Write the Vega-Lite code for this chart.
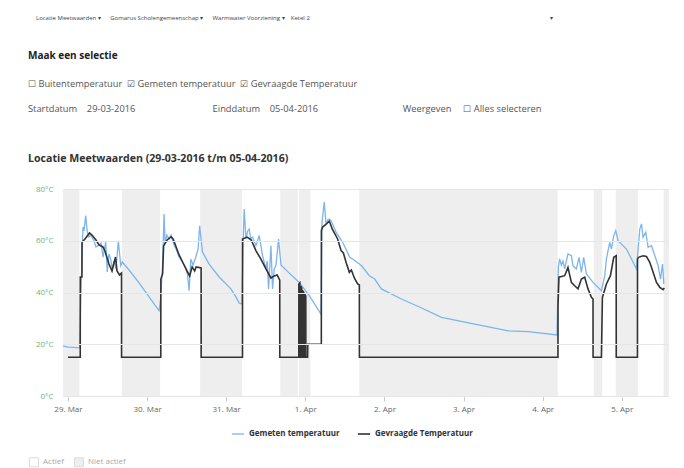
{
  "$schema": "https://vega.github.io/schema/vega-lite/v6.json",
  "autosize": {"type": "pad"},
  "padding": {"left": 28, "top": 15, "right": 0, "bottom": 0},
  "background": "#ffffff",
  "config": {
    "font": "Open Sans",
    "view": {"stroke": null},
    "concat": {"spacing": 0}
  },
  "title": {
    "text": "\u00a0\u00a0Locatie Meetwaarden ▾\u00a0\u00a0\u00a0\u00a0\u00a0\u00a0Gomarus Scholengemeenschap ▾\u00a0\u00a0\u00a0\u00a0\u00a0\u00a0Warmwater Voorziening ▾\u00a0\u00a0\u00a0\u00a0Ketel 2\u2003\u2003\u2003\u2003\u2003\u2003\u2003\u2003\u2003\u2003\u2003\u2003\u2003\u2003\u2003\u2003\u2003\u2003\u2003\u2003\u2003\u2003\u2003\u2003\u2003\u2003\u2003\u2003\u2003\u2003\u2003\u2003\u2003\u2003\u2003\u2003\u2003\u2003\u2003\u2003▾",
    "anchor": "start",
    "frame": "group",
    "dx": -27,
    "offset": 30,
    "fontSize": 6,
    "fontWeight": "normal",
    "color": "#444444"
  },
  "datasets": {
    "bands": [
      {"s": "2016-03-28T22:30", "e": "2016-03-29T03:30", "st": "Niet actief"},
      {"s": "2016-03-29T16:25", "e": "2016-03-30T03:57", "st": "Niet actief"},
      {"s": "2016-03-30T16:06", "e": "2016-03-31T04:52", "st": "Niet actief"},
      {"s": "2016-03-31T16:24", "e": "2016-03-31T21:45", "st": "Niet actief"},
      {"s": "2016-03-31T22:05", "e": "2016-04-01T01:31", "st": "Niet actief"},
      {"s": "2016-04-01T16:24", "e": "2016-04-04T04:34", "st": "Niet actief"},
      {"s": "2016-04-04T15:30", "e": "2016-04-04T18:05", "st": "Niet actief"},
      {"s": "2016-04-04T22:11", "e": "2016-04-05T04:52", "st": "Niet actief"},
      {"s": "2016-04-05T12:42", "e": "2016-04-05T14:20", "st": "Niet actief"}
    ],
    "temps": [
      {"t": "2016-03-28T22:29", "s": "Gemeten temperatuur", "v": 19.3},
      {"t": "2016-03-29T00:18", "s": "Gemeten temperatuur", "v": 18.9},
      {"t": "2016-03-29T03:33", "s": "Gemeten temperatuur", "v": 18.6},
      {"t": "2016-03-29T03:52", "s": "Gemeten temperatuur", "v": 37.5},
      {"t": "2016-03-29T04:15", "s": "Gemeten temperatuur", "v": 52.2},
      {"t": "2016-03-29T04:33", "s": "Gemeten temperatuur", "v": 65.3},
      {"t": "2016-03-29T04:52", "s": "Gemeten temperatuur", "v": 63.8},
      {"t": "2016-03-29T05:23", "s": "Gemeten temperatuur", "v": 69.7},
      {"t": "2016-03-29T05:52", "s": "Gemeten temperatuur", "v": 63.4},
      {"t": "2016-03-29T06:23", "s": "Gemeten temperatuur", "v": 61.4},
      {"t": "2016-03-29T06:59", "s": "Gemeten temperatuur", "v": 62.2},
      {"t": "2016-03-29T07:54", "s": "Gemeten temperatuur", "v": 59.9},
      {"t": "2016-03-29T08:30", "s": "Gemeten temperatuur", "v": 57.6},
      {"t": "2016-03-29T09:25", "s": "Gemeten temperatuur", "v": 58.4},
      {"t": "2016-03-29T10:02", "s": "Gemeten temperatuur", "v": 59.1},
      {"t": "2016-03-29T10:38", "s": "Gemeten temperatuur", "v": 53.7},
      {"t": "2016-03-29T11:27", "s": "Gemeten temperatuur", "v": 59.5},
      {"t": "2016-03-29T11:56", "s": "Gemeten temperatuur", "v": 47.9},
      {"t": "2016-03-29T12:27", "s": "Gemeten temperatuur", "v": 54.9},
      {"t": "2016-03-29T12:58", "s": "Gemeten temperatuur", "v": 52.9},
      {"t": "2016-03-29T13:27", "s": "Gemeten temperatuur", "v": 49.1},
      {"t": "2016-03-29T13:58", "s": "Gemeten temperatuur", "v": 52.2},
      {"t": "2016-03-29T14:35", "s": "Gemeten temperatuur", "v": 49.1},
      {"t": "2016-03-29T15:17", "s": "Gemeten temperatuur", "v": 60.0},
      {"t": "2016-03-29T16:01", "s": "Gemeten temperatuur", "v": 50.4},
      {"t": "2016-03-29T16:30", "s": "Gemeten temperatuur", "v": 51.8},
      {"t": "2016-03-29T18:32", "s": "Gemeten temperatuur", "v": 48.7},
      {"t": "2016-03-29T21:34", "s": "Gemeten temperatuur", "v": 43.7},
      {"t": "2016-03-30T00:37", "s": "Gemeten temperatuur", "v": 38.3},
      {"t": "2016-03-30T03:39", "s": "Gemeten temperatuur", "v": 32.9},
      {"t": "2016-03-30T04:06", "s": "Gemeten temperatuur", "v": 37.5},
      {"t": "2016-03-30T04:39", "s": "Gemeten temperatuur", "v": 49.1},
      {"t": "2016-03-30T05:10", "s": "Gemeten temperatuur", "v": 70.3},
      {"t": "2016-03-30T05:28", "s": "Gemeten temperatuur", "v": 58.8},
      {"t": "2016-03-30T05:59", "s": "Gemeten temperatuur", "v": 62.2},
      {"t": "2016-03-30T06:41", "s": "Gemeten temperatuur", "v": 60.7},
      {"t": "2016-03-30T07:17", "s": "Gemeten temperatuur", "v": 62.2},
      {"t": "2016-03-30T08:12", "s": "Gemeten temperatuur", "v": 58.4},
      {"t": "2016-03-30T08:49", "s": "Gemeten temperatuur", "v": 56.8},
      {"t": "2016-03-30T09:43", "s": "Gemeten temperatuur", "v": 53.7},
      {"t": "2016-03-30T10:43", "s": "Gemeten temperatuur", "v": 51.8},
      {"t": "2016-03-30T11:33", "s": "Gemeten temperatuur", "v": 49.9},
      {"t": "2016-03-30T12:14", "s": "Gemeten temperatuur", "v": 47.2},
      {"t": "2016-03-30T12:45", "s": "Gemeten temperatuur", "v": 40.7},
      {"t": "2016-03-30T13:16", "s": "Gemeten temperatuur", "v": 52.9},
      {"t": "2016-03-30T13:58", "s": "Gemeten temperatuur", "v": 50.6},
      {"t": "2016-03-30T14:47", "s": "Gemeten temperatuur", "v": 53.7},
      {"t": "2016-03-30T15:29", "s": "Gemeten temperatuur", "v": 56.8},
      {"t": "2016-03-30T15:57", "s": "Gemeten temperatuur", "v": 65.8},
      {"t": "2016-03-30T16:48", "s": "Gemeten temperatuur", "v": 55.7},
      {"t": "2016-03-30T18:50", "s": "Gemeten temperatuur", "v": 51.0},
      {"t": "2016-03-30T21:52", "s": "Gemeten temperatuur", "v": 46.0},
      {"t": "2016-03-31T01:26", "s": "Gemeten temperatuur", "v": 41.4},
      {"t": "2016-03-31T02:57", "s": "Gemeten temperatuur", "v": 38.3},
      {"t": "2016-03-31T03:57", "s": "Gemeten temperatuur", "v": 35.9},
      {"t": "2016-03-31T04:46", "s": "Gemeten temperatuur", "v": 35.6},
      {"t": "2016-03-31T05:10", "s": "Gemeten temperatuur", "v": 60.7},
      {"t": "2016-03-31T05:28", "s": "Gemeten temperatuur", "v": 72.3},
      {"t": "2016-03-31T05:59", "s": "Gemeten temperatuur", "v": 60.7},
      {"t": "2016-03-31T06:32", "s": "Gemeten temperatuur", "v": 63.8},
      {"t": "2016-03-31T06:59", "s": "Gemeten temperatuur", "v": 64.5},
      {"t": "2016-03-31T07:26", "s": "Gemeten temperatuur", "v": 60.7},
      {"t": "2016-03-31T07:59", "s": "Gemeten temperatuur", "v": 61.4},
      {"t": "2016-03-31T09:01", "s": "Gemeten temperatuur", "v": 58.1},
      {"t": "2016-03-31T10:02", "s": "Gemeten temperatuur", "v": 62.0},
      {"t": "2016-03-31T11:02", "s": "Gemeten temperatuur", "v": 54.2},
      {"t": "2016-03-31T12:04", "s": "Gemeten temperatuur", "v": 49.1},
      {"t": "2016-03-31T12:27", "s": "Gemeten temperatuur", "v": 52.2},
      {"t": "2016-03-31T12:51", "s": "Gemeten temperatuur", "v": 41.4},
      {"t": "2016-03-31T13:35", "s": "Gemeten temperatuur", "v": 58.1},
      {"t": "2016-03-31T14:04", "s": "Gemeten temperatuur", "v": 41.4},
      {"t": "2016-03-31T14:35", "s": "Gemeten temperatuur", "v": 49.1},
      {"t": "2016-03-31T15:06", "s": "Gemeten temperatuur", "v": 50.4},
      {"t": "2016-03-31T15:53", "s": "Gemeten temperatuur", "v": 60.7},
      {"t": "2016-03-31T16:37", "s": "Gemeten temperatuur", "v": 50.6},
      {"t": "2016-03-31T19:08", "s": "Gemeten temperatuur", "v": 47.5},
      {"t": "2016-03-31T22:11", "s": "Gemeten temperatuur", "v": 43.9},
      {"t": "2016-04-01T01:13", "s": "Gemeten temperatuur", "v": 38.8},
      {"t": "2016-04-01T04:46", "s": "Gemeten temperatuur", "v": 31.7},
      {"t": "2016-04-01T05:04", "s": "Gemeten temperatuur", "v": 67.1},
      {"t": "2016-04-01T05:46", "s": "Gemeten temperatuur", "v": 74.9},
      {"t": "2016-04-01T06:17", "s": "Gemeten temperatuur", "v": 66.5},
      {"t": "2016-04-01T06:50", "s": "Gemeten temperatuur", "v": 68.0},
      {"t": "2016-04-01T07:17", "s": "Gemeten temperatuur", "v": 68.4},
      {"t": "2016-04-01T07:54", "s": "Gemeten temperatuur", "v": 67.6},
      {"t": "2016-04-01T09:20", "s": "Gemeten temperatuur", "v": 63.3},
      {"t": "2016-04-01T11:20", "s": "Gemeten temperatuur", "v": 59.4},
      {"t": "2016-04-01T13:28", "s": "Gemeten temperatuur", "v": 53.7},
      {"t": "2016-04-01T15:11", "s": "Gemeten temperatuur", "v": 52.2},
      {"t": "2016-04-01T17:01", "s": "Gemeten temperatuur", "v": 50.4},
      {"t": "2016-04-01T19:26", "s": "Gemeten temperatuur", "v": 46.5},
      {"t": "2016-04-01T21:03", "s": "Gemeten temperatuur", "v": 45.2},
      {"t": "2016-04-01T23:05", "s": "Gemeten temperatuur", "v": 41.4},
      {"t": "2016-04-02T05:10", "s": "Gemeten temperatuur", "v": 37.5},
      {"t": "2016-04-02T10:38", "s": "Gemeten temperatuur", "v": 34.4},
      {"t": "2016-04-02T17:19", "s": "Gemeten temperatuur", "v": 30.4},
      {"t": "2016-04-03T03:26", "s": "Gemeten temperatuur", "v": 27.8},
      {"t": "2016-04-03T13:35", "s": "Gemeten temperatuur", "v": 25.2},
      {"t": "2016-04-03T19:39", "s": "Gemeten temperatuur", "v": 24.9},
      {"t": "2016-04-04T04:21", "s": "Gemeten temperatuur", "v": 23.6},
      {"t": "2016-04-04T04:46", "s": "Gemeten temperatuur", "v": 49.7},
      {"t": "2016-04-04T05:10", "s": "Gemeten temperatuur", "v": 53.0},
      {"t": "2016-04-04T05:41", "s": "Gemeten temperatuur", "v": 50.6},
      {"t": "2016-04-04T06:10", "s": "Gemeten temperatuur", "v": 52.2},
      {"t": "2016-04-04T06:41", "s": "Gemeten temperatuur", "v": 49.1},
      {"t": "2016-04-04T07:41", "s": "Gemeten temperatuur", "v": 54.9},
      {"t": "2016-04-04T08:43", "s": "Gemeten temperatuur", "v": 54.2},
      {"t": "2016-04-04T09:12", "s": "Gemeten temperatuur", "v": 50.4},
      {"t": "2016-04-04T10:14", "s": "Gemeten temperatuur", "v": 49.1},
      {"t": "2016-04-04T11:02", "s": "Gemeten temperatuur", "v": 53.6},
      {"t": "2016-04-04T11:45", "s": "Gemeten temperatuur", "v": 47.8},
      {"t": "2016-04-04T12:27", "s": "Gemeten temperatuur", "v": 53.6},
      {"t": "2016-04-04T13:17", "s": "Gemeten temperatuur", "v": 47.2},
      {"t": "2016-04-04T15:17", "s": "Gemeten temperatuur", "v": 43.9},
      {"t": "2016-04-04T17:50", "s": "Gemeten temperatuur", "v": 40.7},
      {"t": "2016-04-04T18:50", "s": "Gemeten temperatuur", "v": 46.5},
      {"t": "2016-04-04T19:21", "s": "Gemeten temperatuur", "v": 53.0},
      {"t": "2016-04-04T20:21", "s": "Gemeten temperatuur", "v": 59.4},
      {"t": "2016-04-04T20:52", "s": "Gemeten temperatuur", "v": 56.8},
      {"t": "2016-04-04T21:34", "s": "Gemeten temperatuur", "v": 62.0},
      {"t": "2016-04-04T22:11", "s": "Gemeten temperatuur", "v": 63.9},
      {"t": "2016-04-04T22:53", "s": "Gemeten temperatuur", "v": 60.0},
      {"t": "2016-04-05T01:26", "s": "Gemeten temperatuur", "v": 56.8},
      {"t": "2016-04-05T04:28", "s": "Gemeten temperatuur", "v": 49.1},
      {"t": "2016-04-05T05:28", "s": "Gemeten temperatuur", "v": 64.5},
      {"t": "2016-04-05T05:59", "s": "Gemeten temperatuur", "v": 66.5},
      {"t": "2016-04-05T06:28", "s": "Gemeten temperatuur", "v": 61.3},
      {"t": "2016-04-05T07:17", "s": "Gemeten temperatuur", "v": 63.3},
      {"t": "2016-04-05T07:59", "s": "Gemeten temperatuur", "v": 57.5},
      {"t": "2016-04-05T09:01", "s": "Gemeten temperatuur", "v": 58.1},
      {"t": "2016-04-05T10:02", "s": "Gemeten temperatuur", "v": 54.2},
      {"t": "2016-04-05T11:02", "s": "Gemeten temperatuur", "v": 50.4},
      {"t": "2016-04-05T11:46", "s": "Gemeten temperatuur", "v": 45.2},
      {"t": "2016-04-05T12:22", "s": "Gemeten temperatuur", "v": 51.0},
      {"t": "2016-04-05T12:46", "s": "Gemeten temperatuur", "v": 43.3},

      {"t": "2016-03-29T00:00", "s": "Gevraagde Temperatuur", "v": 15},
      {"t": "2016-03-29T03:44", "s": "Gevraagde Temperatuur", "v": 15},
      {"t": "2016-03-29T03:45", "s": "Gevraagde Temperatuur", "v": 46},
      {"t": "2016-03-29T04:15", "s": "Gevraagde Temperatuur", "v": 46},
      {"t": "2016-03-29T04:16", "s": "Gevraagde Temperatuur", "v": 59.5},
      {"t": "2016-03-29T05:10", "s": "Gevraagde Temperatuur", "v": 60.7},
      {"t": "2016-03-29T06:32", "s": "Gevraagde Temperatuur", "v": 63},
      {"t": "2016-03-29T07:17", "s": "Gevraagde Temperatuur", "v": 62.2},
      {"t": "2016-03-29T08:30", "s": "Gevraagde Temperatuur", "v": 60.3},
      {"t": "2016-03-29T09:25", "s": "Gevraagde Temperatuur", "v": 58.4},
      {"t": "2016-03-29T10:38", "s": "Gevraagde Temperatuur", "v": 57.6},
      {"t": "2016-03-29T11:14", "s": "Gevraagde Temperatuur", "v": 56},
      {"t": "2016-03-29T12:27", "s": "Gevraagde Temperatuur", "v": 51},
      {"t": "2016-03-29T13:22", "s": "Gevraagde Temperatuur", "v": 48.3},
      {"t": "2016-03-29T14:26", "s": "Gevraagde Temperatuur", "v": 53.7},
      {"t": "2016-03-29T14:53", "s": "Gevraagde Temperatuur", "v": 48.3},
      {"t": "2016-03-29T15:39", "s": "Gevraagde Temperatuur", "v": 46.8},
      {"t": "2016-03-29T16:15", "s": "Gevraagde Temperatuur", "v": 47.5},
      {"t": "2016-03-29T16:16", "s": "Gevraagde Temperatuur", "v": 15},
      {"t": "2016-03-30T04:10", "s": "Gevraagde Temperatuur", "v": 15},
      {"t": "2016-03-30T04:11", "s": "Gevraagde Temperatuur", "v": 45.2},
      {"t": "2016-03-30T04:43", "s": "Gevraagde Temperatuur", "v": 47.2},
      {"t": "2016-03-30T05:01", "s": "Gevraagde Temperatuur", "v": 58},
      {"t": "2016-03-30T06:05", "s": "Gevraagde Temperatuur", "v": 60.3},
      {"t": "2016-03-30T07:17", "s": "Gevraagde Temperatuur", "v": 61.5},
      {"t": "2016-03-30T07:54", "s": "Gevraagde Temperatuur", "v": 60.7},
      {"t": "2016-03-30T08:49", "s": "Gevraagde Temperatuur", "v": 57.6},
      {"t": "2016-03-30T09:43", "s": "Gevraagde Temperatuur", "v": 54.5},
      {"t": "2016-03-30T10:56", "s": "Gevraagde Temperatuur", "v": 51.4},
      {"t": "2016-03-30T12:09", "s": "Gevraagde Temperatuur", "v": 48.3},
      {"t": "2016-03-30T12:55", "s": "Gevraagde Temperatuur", "v": 46.4},
      {"t": "2016-03-30T13:40", "s": "Gevraagde Temperatuur", "v": 49.9},
      {"t": "2016-03-30T14:26", "s": "Gevraagde Temperatuur", "v": 48.3},
      {"t": "2016-03-30T14:53", "s": "Gevraagde Temperatuur", "v": 49.9},
      {"t": "2016-03-30T16:24", "s": "Gevraagde Temperatuur", "v": 49.5},
      {"t": "2016-03-30T16:25", "s": "Gevraagde Temperatuur", "v": 15},
      {"t": "2016-03-31T04:57", "s": "Gevraagde Temperatuur", "v": 15},
      {"t": "2016-03-31T04:58", "s": "Gevraagde Temperatuur", "v": 60.7},
      {"t": "2016-03-31T06:23", "s": "Gevraagde Temperatuur", "v": 61.4},
      {"t": "2016-03-31T07:36", "s": "Gevraagde Temperatuur", "v": 60.3},
      {"t": "2016-03-31T09:01", "s": "Gevraagde Temperatuur", "v": 56.2},
      {"t": "2016-03-31T10:32", "s": "Gevraagde Temperatuur", "v": 52.9},
      {"t": "2016-03-31T12:04", "s": "Gevraagde Temperatuur", "v": 49.1},
      {"t": "2016-03-31T13:35", "s": "Gevraagde Temperatuur", "v": 45.6},
      {"t": "2016-03-31T14:35", "s": "Gevraagde Temperatuur", "v": 46.4},
      {"t": "2016-03-31T15:29", "s": "Gevraagde Temperatuur", "v": 46.8},
      {"t": "2016-03-31T16:15", "s": "Gevraagde Temperatuur", "v": 44.8},
      {"t": "2016-03-31T16:16", "s": "Gevraagde Temperatuur", "v": 15},
      {"t": "2016-03-31T22:02", "s": "Gevraagde Temperatuur", "v": 15},
      {"t": "2016-03-31T22:03", "s": "Gevraagde Temperatuur", "v": 43.3},
      {"t": "2016-03-31T22:20", "s": "Gevraagde Temperatuur", "v": 43.7},
      {"t": "2016-03-31T22:21", "s": "Gevraagde Temperatuur", "v": 15},
      {"t": "2016-03-31T22:38", "s": "Gevraagde Temperatuur", "v": 15},
      {"t": "2016-03-31T22:39", "s": "Gevraagde Temperatuur", "v": 42.5},
      {"t": "2016-03-31T22:56", "s": "Gevraagde Temperatuur", "v": 41.7},
      {"t": "2016-03-31T22:57", "s": "Gevraagde Temperatuur", "v": 15},
      {"t": "2016-03-31T23:14", "s": "Gevraagde Temperatuur", "v": 15},
      {"t": "2016-03-31T23:15", "s": "Gevraagde Temperatuur", "v": 40.6},
      {"t": "2016-03-31T23:33", "s": "Gevraagde Temperatuur", "v": 40},
      {"t": "2016-03-31T23:34", "s": "Gevraagde Temperatuur", "v": 15},
      {"t": "2016-03-31T23:51", "s": "Gevraagde Temperatuur", "v": 15},
      {"t": "2016-03-31T23:52", "s": "Gevraagde Temperatuur", "v": 39.4},
      {"t": "2016-04-01T00:09", "s": "Gevraagde Temperatuur", "v": 38.6},
      {"t": "2016-04-01T00:10", "s": "Gevraagde Temperatuur", "v": 15},
      {"t": "2016-04-01T00:42", "s": "Gevraagde Temperatuur", "v": 15},
      {"t": "2016-04-01T00:45", "s": "Gevraagde Temperatuur", "v": 20},
      {"t": "2016-04-01T04:52", "s": "Gevraagde Temperatuur", "v": 20},
      {"t": "2016-04-01T04:53", "s": "Gevraagde Temperatuur", "v": 64},
      {"t": "2016-04-01T05:15", "s": "Gevraagde Temperatuur", "v": 65.3},
      {"t": "2016-04-01T06:05", "s": "Gevraagde Temperatuur", "v": 66.1},
      {"t": "2016-04-01T07:17", "s": "Gevraagde Temperatuur", "v": 67.6},
      {"t": "2016-04-01T08:12", "s": "Gevraagde Temperatuur", "v": 64.5},
      {"t": "2016-04-01T08:49", "s": "Gevraagde Temperatuur", "v": 63},
      {"t": "2016-04-01T09:49", "s": "Gevraagde Temperatuur", "v": 60.7},
      {"t": "2016-04-01T10:51", "s": "Gevraagde Temperatuur", "v": 56.2},
      {"t": "2016-04-01T11:33", "s": "Gevraagde Temperatuur", "v": 55.3},
      {"t": "2016-04-01T12:22", "s": "Gevraagde Temperatuur", "v": 51.7},
      {"t": "2016-04-01T13:22", "s": "Gevraagde Temperatuur", "v": 47.8},
      {"t": "2016-04-01T13:59", "s": "Gevraagde Temperatuur", "v": 48.7},
      {"t": "2016-04-01T14:53", "s": "Gevraagde Temperatuur", "v": 45.6},
      {"t": "2016-04-01T15:53", "s": "Gevraagde Temperatuur", "v": 43.3},
      {"t": "2016-04-01T16:24", "s": "Gevraagde Temperatuur", "v": 42.9},
      {"t": "2016-04-01T16:25", "s": "Gevraagde Temperatuur", "v": 15},
      {"t": "2016-04-04T04:39", "s": "Gevraagde Temperatuur", "v": 15},
      {"t": "2016-04-04T04:40", "s": "Gevraagde Temperatuur", "v": 34.8},
      {"t": "2016-04-04T04:57", "s": "Gevraagde Temperatuur", "v": 45.9},
      {"t": "2016-04-04T06:41", "s": "Gevraagde Temperatuur", "v": 46.5},
      {"t": "2016-04-04T07:41", "s": "Gevraagde Temperatuur", "v": 49.7},
      {"t": "2016-04-04T08:43", "s": "Gevraagde Temperatuur", "v": 43.9},
      {"t": "2016-04-04T09:43", "s": "Gevraagde Temperatuur", "v": 42.6},
      {"t": "2016-04-04T10:44", "s": "Gevraagde Temperatuur", "v": 41.4},
      {"t": "2016-04-04T11:45", "s": "Gevraagde Temperatuur", "v": 45.2},
      {"t": "2016-04-04T12:46", "s": "Gevraagde Temperatuur", "v": 45.9},
      {"t": "2016-04-04T13:46", "s": "Gevraagde Temperatuur", "v": 41.4},
      {"t": "2016-04-04T14:48", "s": "Gevraagde Temperatuur", "v": 38.1},
      {"t": "2016-04-04T15:17", "s": "Gevraagde Temperatuur", "v": 37.5},
      {"t": "2016-04-04T15:18", "s": "Gevraagde Temperatuur", "v": 15},
      {"t": "2016-04-04T17:50", "s": "Gevraagde Temperatuur", "v": 15},
      {"t": "2016-04-04T18:08", "s": "Gevraagde Temperatuur", "v": 38.1},
      {"t": "2016-04-04T19:21", "s": "Gevraagde Temperatuur", "v": 43.3},
      {"t": "2016-04-04T20:34", "s": "Gevraagde Temperatuur", "v": 46.5},
      {"t": "2016-04-04T21:34", "s": "Gevraagde Temperatuur", "v": 53.6},
      {"t": "2016-04-04T22:19", "s": "Gevraagde Temperatuur", "v": 54.2},
      {"t": "2016-04-04T22:20", "s": "Gevraagde Temperatuur", "v": 15},
      {"t": "2016-04-05T04:46", "s": "Gevraagde Temperatuur", "v": 15},
      {"t": "2016-04-05T04:47", "s": "Gevraagde Temperatuur", "v": 53},
      {"t": "2016-04-05T05:05", "s": "Gevraagde Temperatuur", "v": 53.6},
      {"t": "2016-04-05T06:28", "s": "Gevraagde Temperatuur", "v": 54.2},
      {"t": "2016-04-05T07:30", "s": "Gevraagde Temperatuur", "v": 53.9},
      {"t": "2016-04-05T08:30", "s": "Gevraagde Temperatuur", "v": 51.7},
      {"t": "2016-04-05T09:31", "s": "Gevraagde Temperatuur", "v": 47.8},
      {"t": "2016-04-05T10:32", "s": "Gevraagde Temperatuur", "v": 43.9},
      {"t": "2016-04-05T11:33", "s": "Gevraagde Temperatuur", "v": 42},
      {"t": "2016-04-05T12:33", "s": "Gevraagde Temperatuur", "v": 41.1},
      {"t": "2016-04-05T12:55", "s": "Gevraagde Temperatuur", "v": 41.7}
    ]
  },
  "vconcat": [
    {
      "title": {
        "text": "Maak een selectie",
        "subtitle": [
          "☐ Buitentemperatuur\u00a0\u00a0☑ Gemeten temperatuur\u00a0\u00a0☑ Gevraagde Temperatuur",
          "Startdatum\u00a0\u00a0\u00a0\u00a029-03-2016\u00a0\u00a0\u00a0\u00a0\u00a0\u00a0\u00a0\u00a0\u00a0\u00a0\u00a0\u00a0\u00a0\u00a0\u00a0\u00a0\u00a0\u00a0\u00a0\u00a0\u00a0\u00a0\u00a0\u00a0\u00a0\u00a0\u00a0\u00a0\u00a0\u00a0\u00a0\u00a0Einddatum\u00a0\u00a0\u00a0\u00a005-04-2016\u00a0\u00a0\u00a0\u00a0\u00a0\u00a0\u00a0\u00a0\u00a0\u00a0\u00a0\u00a0\u00a0\u00a0\u00a0\u00a0\u00a0\u00a0\u00a0\u00a0\u00a0\u00a0\u00a0\u00a0\u00a0\u00a0\u00a0\u00a0\u00a0\u00a0\u00a0\u00a0\u00a0\u00a0\u00a0Weergeven\u00a0\u00a0\u00a0\u00a0\u00a0☐ Alles selecteren"
        ],
        "anchor": "start",
        "frame": "group",
        "dx": -35,
        "offset": 40,
        "fontSize": 10,
        "fontWeight": "bold",
        "color": "#222222",
        "subtitleFontSize": 9.3,
        "subtitleColor": "#555555",
        "subtitlePadding": 19,
        "subtitleLineHeight": 25
      },
      "vconcat": [
        {
          "width": 606,
          "height": 207,
          "title": {
            "text": "Locatie Meetwaarden (29-03-2016 t/m 05-04-2016)",
            "anchor": "start",
            "frame": "group",
            "dx": -35,
            "offset": 20,
            "fontSize": 10.6,
            "fontWeight": "bold",
            "color": "#333333"
          },
          "layer": [
            {
              "data": {"name": "bands"},
              "mark": {"type": "rect", "stroke": null},
              "encoding": {
                "x": {
                  "field": "s", "type": "temporal",
                  "scale": {"domain": ["2016-03-28T22:30", "2016-04-05T14:20"]},
                  "axis": {
                    "title": null,
                    "format": "%-d. %b",
                    "tickCount": {"interval": "day", "step": 1},
                    "labelColor": "#666666",
                    "labelFontSize": 8,
                    "labelPadding": 4,
                    "domainColor": "#C0D0E0",
                    "tickColor": "#C0D0E0",
                    "tickSize": 5,
                    "grid": false
                  }
                },
                "x2": {"field": "e"},
                "fill": {
                  "field": "st", "type": "nominal",
                  "scale": {"domain": ["Actief", "Niet actief"], "range": ["#ffffff", "#eeeeee"]},
                  "legend": {
                    "title": null,
                    "orient": "none",
                    "direction": "horizontal",
                    "legendX": -34,
                    "legendY": 268,
                    "symbolType": "square",
                    "symbolSize": 80,
                    "symbolStrokeColor": "#dddddd",
                    "symbolStrokeWidth": 1,
                    "labelColor": "#aaaaaa",
                    "labelFontSize": 8,
                    "columnPadding": 8
                  }
                }
              }
            },
            {
              "data": {"name": "temps"},
              "mark": {"type": "line", "interpolate": "linear"},
              "encoding": {
                "x": {"field": "t", "type": "temporal"},
                "y": {
                  "field": "v", "type": "quantitative",
                  "scale": {"domain": [0, 80], "nice": false},
                  "axis": {
                    "title": null,
                    "values": [0, 20, 40, 60, 80],
                    "labelExpr": "datum.value + '°C'",
                    "labelColor": "#6cb86c",
                    "labelFontSize": 8,
                    "labelPadding": 10,
                    "domain": false,
                    "ticks": false,
                    "gridColor": "#e6e6e6",
                    "zindex": 1
                  }
                },
                "color": {
                  "field": "s", "type": "nominal",
                  "scale": {"domain": ["Gemeten temperatuur", "Gevraagde Temperatuur"], "range": ["#7cb5ec", "#333333"]},
                  "legend": {
                    "title": null,
                    "orient": "none",
                    "direction": "horizontal",
                    "legendX": 168,
                    "legendY": 238,
                    "symbolType": "stroke",
                    "symbolStrokeWidth": 2,
                    "symbolSize": 150,
                    "labelColor": "#333333",
                    "labelFontSize": 8,
                    "labelFontWeight": "bold",
                    "columnPadding": 14
                  }
                },
                "strokeWidth": {
                  "field": "s", "type": "nominal",
                  "scale": {"domain": ["Gemeten temperatuur", "Gevraagde Temperatuur"], "range": [1.3, 1.6]},
                  "legend": null
                }
              }
            }
          ]
        }
      ]
    }
  ]
}
